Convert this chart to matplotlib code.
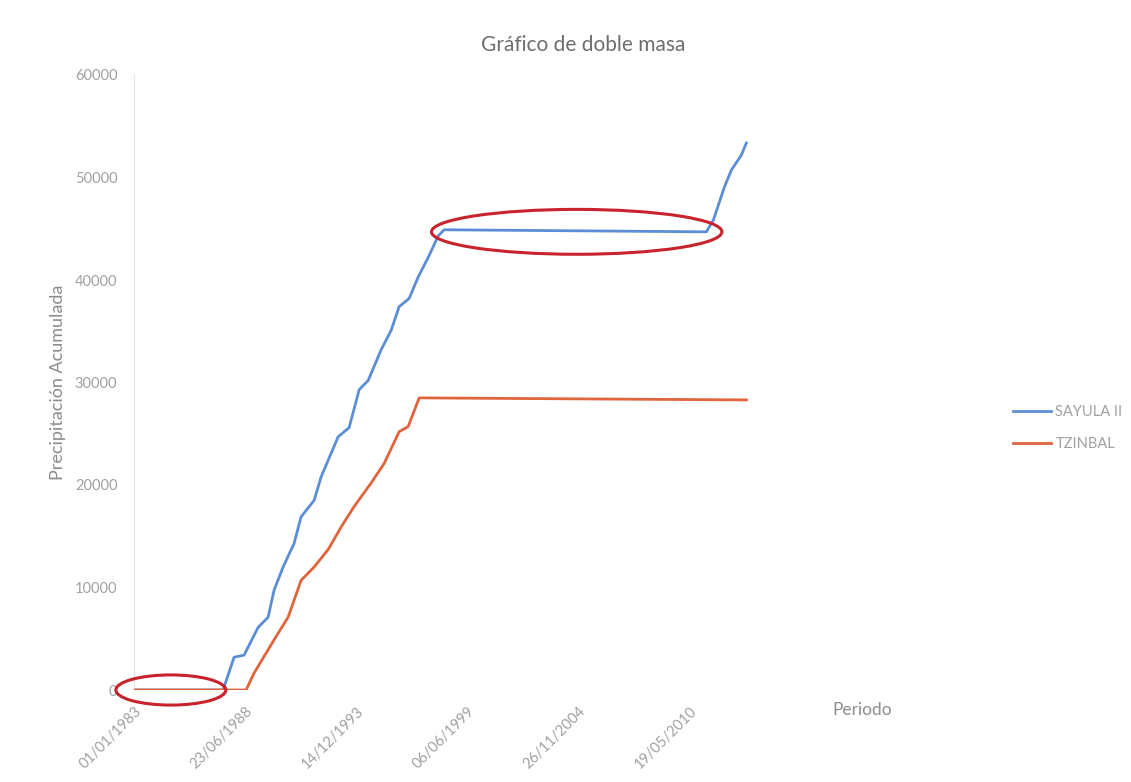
import matplotlib
matplotlib.use("Agg")
import matplotlib.pyplot as plt
import matplotlib.dates as mdates
from matplotlib.patches import Ellipse
import pandas as pd

# --- data (cumulative precipitation) ---
SAYULA_DATES = [
    "1983-01-01", "1987-05-24", "1987-12-08", "1988-06-05", "1989-02-12",
    "1989-08-12", "1989-11-28", "1990-05-09", "1990-11-23", "1991-03-29",
    "1991-11-19", "1992-03-24", "1993-01-24", "1993-08-10", "1994-02-07",
    "1994-07-19", "1995-03-10", "1995-09-06", "1996-01-28", "1996-07-26",
    "1997-01-05", "1997-07-04", "1997-12-31", "1998-04-18", "2011-03-22",
    "2011-07-27", "2012-02-10", "2012-06-15", "2012-12-12", "2013-03-12",
]
SAYULA_VALUES = [
    0, 0, 3200, 3400, 6100,
    7100, 9750, 12000, 14300, 16900,
    18500, 20800, 24700, 25600, 29300,
    30200, 33200, 35100, 37400, 38200,
    40300, 42200, 44300, 44900, 44700,
    45850, 49070, 50730, 52200, 53370,
]

TZINBAL_DATES = [
    "1983-01-01", "1988-07-11", "1988-12-02", "1989-11-28", "1990-08-07",
    "1991-03-29", "1991-11-19", "1992-07-28", "1993-03-19", "1993-11-08",
    "1994-09-11", "1995-05-03", "1996-01-28", "1996-07-08", "1997-01-23",
    "2013-03-12",
]
TZINBAL_VALUES = [
    0, 0, 1650, 4900, 7100,
    10700, 12000, 13700, 15900, 17900,
    20200, 22100, 25200, 25700, 28500,
    28300,
]

TICK_DATES = ["1983-01-01", "1988-06-23", "1993-12-14",
              "1999-06-06", "2004-11-26", "2010-05-19"]
Y_TICKS = [0, 10000, 20000, 30000, 40000, 50000, 60000]

BLUE = "#5b8ed6"
RED = "#e0643c"
GRAY = "#8c8c8c"
LIGHT = "#a0a0a0"

plt.rcParams["font.family"] = ["Lato", "DejaVu Sans"]

fig = plt.figure(figsize=(11.31, 7.82), dpi=100)
ax = fig.add_axes([134 / 1131, 1 - 690 / 782, (748 - 134) / 1131, 615 / 782])

ax.plot(pd.to_datetime(SAYULA_DATES), SAYULA_VALUES, color=BLUE, lw=2.0,
        label="SAYULA II", zorder=2)
ax.plot(pd.to_datetime(TZINBAL_DATES), TZINBAL_VALUES, color=RED, lw=2.0,
        label="TZINBAL", zorder=3)

ax.set_ylim(0, 60000)
ax.set_xlim(pd.Timestamp("1983-01-01"), pd.Timestamp("2013-04-10"))
ax.set_yticks(Y_TICKS)
ax.set_xticks(pd.to_datetime(TICK_DATES))
ax.xaxis.set_major_formatter(mdates.DateFormatter("%d/%m/%Y"))
for lbl in ax.get_xticklabels():
    lbl.set_rotation(45)
    lbl.set_ha("right")
    lbl.set_rotation_mode("anchor")

ax.tick_params(axis="both", length=0, colors=LIGHT, labelsize=10.5)
ax.tick_params(axis="y", pad=12)
ax.tick_params(axis="x", pad=10)
for side in ("top", "right", "bottom"):
    ax.spines[side].set_visible(False)
ax.spines["left"].set_color("#dfe6ee")

ax.set_ylabel("Precipitación Acumulada", color=GRAY, fontsize=13, labelpad=6)
fig.text(862 / 1131, 1 - 710 / 782, "Periodo", color=GRAY, fontsize=12.5,
         ha="center", va="center")
fig.suptitle("Gráfico de doble masa", color="#6e6e6e", fontsize=15,
             x=583 / 1131, y=1 - 45 / 782, va="center")

ax.legend(loc="center left", bbox_to_anchor=(1000 / 1131, 1 - 428 / 782),
          bbox_transform=fig.transFigure, frameon=False, fontsize=10.5,
          handlelength=2.6, labelspacing=1.2, handletextpad=0.3,
          labelcolor=LIGHT)

# red highlight ellipses drawn on the original
for cx, cy, w, h in [(0.060, 0.0, 0.179, 0.049), (0.721, 0.745, 0.473, 0.073)]:
    ax.add_patch(Ellipse((cx, cy), w, h, transform=ax.transAxes, fill=False,
                         edgecolor="#c8232c", lw=2.2, clip_on=False, zorder=4))

fig.savefig("out.png", dpi=100)
